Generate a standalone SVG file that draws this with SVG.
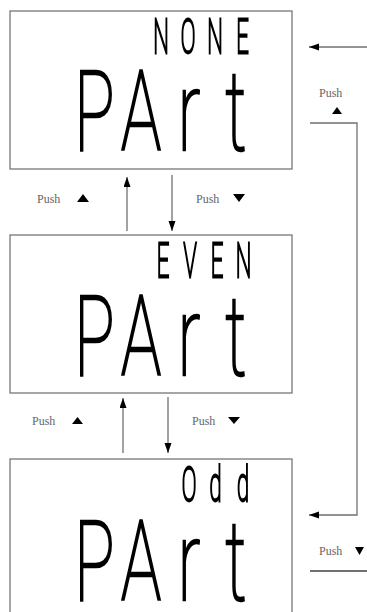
<svg xmlns="http://www.w3.org/2000/svg" width="367" height="612" viewBox="0 0 367 612">
<style>
.box{fill:#fff;stroke:#777;stroke-width:1.3}
.lcdL{font-family:Roboto,"Open Sans","DejaVu Sans",sans-serif;font-weight:100;font-size:112px;fill:#000;stroke:#000;stroke-width:2.2;text-anchor:middle}
.lcdS{font-family:Roboto,"Open Sans","DejaVu Sans",sans-serif;font-weight:100;font-size:49px;fill:#000;stroke:#000;stroke-width:2.2;text-anchor:middle}
.push{font-family:"Liberation Serif",serif;font-size:12px;fill:#666}
.con{fill:none;stroke:#707070;stroke-width:1.3}
.tri{fill:#000}
</style>
<defs>
<marker id="ah" markerUnits="userSpaceOnUse" markerWidth="11" markerHeight="8" refX="10" refY="3.5" orient="auto">
<path d="M0,0 L10,3.5 L0,7 z" fill="#000"/>
</marker>
<filter id="gray" x="0" y="0" width="1" height="1">
<feOffset dx="0" dy="0"/>
</filter>
</defs>
<g id="node-none">
<rect class="box" x="10" y="11" width="282" height="158"/>
<g filter="url(#gray)">
<text class="lcdS" transform="scale(0.45,1)" x="357.8 417.8 477.8 538.9" y="53" vector-effect="non-scaling-stroke">NONE</text>
<text class="lcdL" transform="scale(0.6,1)" x="157.5 235 315 393.3" y="150" vector-effect="non-scaling-stroke">PArt</text>
</g>
</g>
<g id="node-even">
<rect class="box" x="10" y="235" width="282" height="158"/>
<g filter="url(#gray)">
<text class="lcdS" transform="scale(0.45,1)" x="362.2 422.2 482.2 541.1" y="277" vector-effect="non-scaling-stroke">EVEN</text>
<text class="lcdL" transform="scale(0.6,1)" x="157.5 235 315 393.3" y="375" vector-effect="non-scaling-stroke">PArt</text>
</g>
</g>
<g id="node-odd">
<rect class="box" x="10" y="459" width="282" height="200"/>
<g filter="url(#gray)">
<text class="lcdS" transform="scale(0.45,1)" x="420 478.9 540" y="501" vector-effect="non-scaling-stroke">Odd</text>
<text class="lcdL" transform="scale(0.6,1)" x="157.5 235 315 393.3" y="600" vector-effect="non-scaling-stroke">PArt</text>
</g>
</g>
<g id="connectors">
<line class="con" x1="127" y1="231" x2="127" y2="177" marker-end="url(#ah)"/>
<line class="con" x1="172" y1="175" x2="172" y2="231" marker-end="url(#ah)"/>
<line class="con" x1="123" y1="453" x2="123" y2="398" marker-end="url(#ah)"/>
<line class="con" x1="168" y1="397" x2="168" y2="453" marker-end="url(#ah)"/>
<line class="con" x1="367" y1="47" x2="309" y2="47" marker-end="url(#ah)"/>
<polyline class="con" points="310,123 357,123 357,515 309,515" marker-end="url(#ah)"/>
<line class="con" x1="310" y1="571" x2="367" y2="571" style="stroke-width:2"/>
<text class="push" x="37" y="203">Push</text>
<polygon class="tri" points="77,202 83,194 89,202"/>
<text class="push" x="196" y="203">Push</text>
<polygon class="tri" points="233,194 245,194 239,202"/>
<text class="push" x="32" y="425">Push</text>
<polygon class="tri" points="72,424 77.5,417 83,424"/>
<text class="push" x="192" y="425">Push</text>
<polygon class="tri" points="228,417 240,417 234,424"/>
<text class="push" x="319" y="97">Push</text>
<polygon class="tri" points="332,114 337,107 342,114"/>
<text class="push" x="319" y="555">Push</text>
<polygon class="tri" points="355,547 364,547 359.5,555"/>
</g>
</svg>
